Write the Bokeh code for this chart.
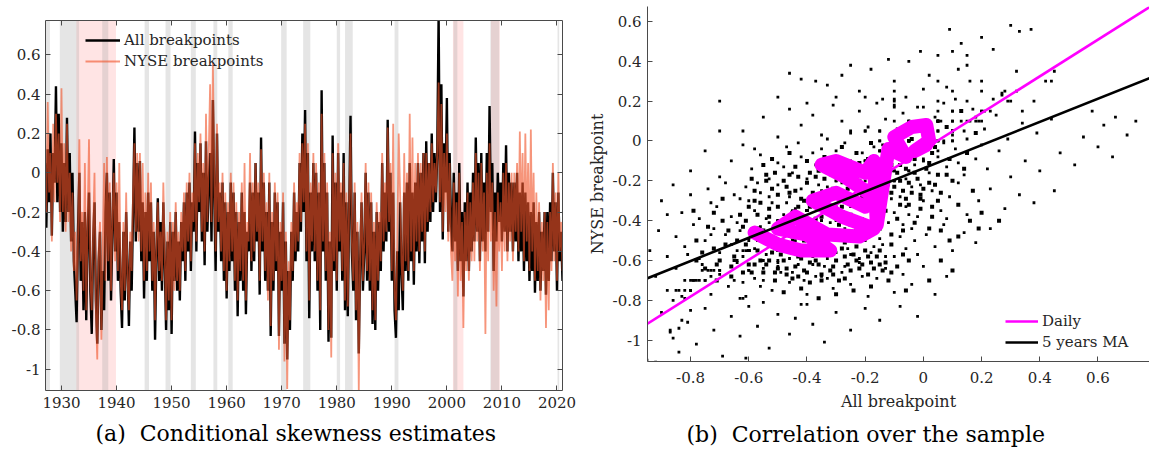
import numpy as np
from bokeh.plotting import figure
from bokeh.models import (BoxAnnotation, LinearAxis, FixedTicker, CustomJSTickFormatter,
                          Legend, LegendItem, Title, Range1d)
from bokeh.layouts import row
from bokeh.embed import file_html
from bokeh.resources import INLINE

FONT = "DejaVu Serif"
AX = "#4a4a4a"
TXT = "#262626"

# ---------------- data: panel (a), quarterly readings 1927.0 ... 2021.0 ----------------
start_year = 1927.0
all_bp = [
    0.05, -0.28, 0.12, -0.15,   0.20, -0.32, 0.10, -0.05,   0.44, -0.15, 0.30, -0.20,
    0.15, -0.30, 0.05, -0.25,   0.28, -0.20, 0.10, -0.35,   0.00, -0.45, -0.60, -0.76,
    -0.30, 0.00, -0.55, -0.25,  -0.70, -0.20, -0.75, -0.30, -0.10, -0.60, -0.82, -0.35,
    -0.15, -0.65, -0.87, -0.45, -0.30, -0.80, -0.50, -0.70, -0.20, 0.00, -0.55, -0.10,
    -0.65, -0.30, 0.07, -0.40,  -0.10, -0.55, -0.25, -0.60, -0.79, -0.30, -0.65, -0.20,
    -0.50, -0.78, -0.35, -0.60, -0.20, 0.23, -0.35, 0.05,   -0.30, 0.06, -0.45, -0.15,
    -0.64, -0.20, -0.55, -0.10, -0.45, -0.15, -0.60, -0.30, -0.85, -0.40, -0.13, -0.55,
    -0.25, -0.60, -0.15, -0.45, -0.80, -0.35, -0.70, -0.25, -0.82, -0.30, -0.55, -0.20,
    -0.60, -0.35, -0.65, -0.25, -0.45, -0.15, -0.55, -0.10, -0.40, -0.05, -0.50, -0.15,
    -0.30, 0.21, -0.40, 0.05,   -0.20, 0.15, -0.35, 0.00,   -0.47, 0.16, -0.30, -0.05,
    0.10, -0.35, 0.37, -0.10,   -0.50, 0.20, -0.30, -0.10,  -0.45, -0.05, -0.55, -0.15,
    -0.64, -0.20, -0.50, -0.05, -0.45, -0.10, -0.60, -0.20, -0.73, -0.25, -0.55, -0.10,
    -0.60, -0.20, -0.72, -0.30, -0.40, -0.05, -0.50, -0.10, -0.45, 0.05, -0.35, -0.10,
    -0.62, 0.18, -0.40, -0.05,  -0.55, -0.20, -0.60, -0.05, -0.83, -0.25, -0.60, -0.10,
    -0.50, -0.15, -0.83, -0.30, -0.60, -0.15, -0.87, -0.35, -0.95, -0.50, -0.80, -0.30,
    -0.55, -0.10, -0.45, -0.20, -0.40, 0.05, -0.30, 0.20,   -0.20, 0.32, -0.45, 0.10,
    -0.74, -0.10, -0.40, 0.05,  -0.45, 0.00, -0.60, -0.10,  -0.80, 0.42, -0.40, 0.05,
    -0.55, -0.10, -0.86, -0.35, -0.84, 0.19, -0.50, -0.05,  -0.60, 0.10, -0.40, -0.10,
    -0.55, 0.10, -0.70, -0.15,  -0.73, -0.20, 0.29, -0.40,  -0.60, -0.10, -0.75, -0.30,
    -0.92, -0.45, -0.15, -0.60, -0.40, 0.00, -0.55, -0.10,  -0.60, -0.15, -0.77, -0.30,
    -0.80, -0.20, -0.60, -0.25, -0.50, 0.05, -0.40, -0.10,  -0.35, 0.27, -0.30, 0.00,
    -0.55, -0.10, -0.70, -0.84, -0.40, -0.70, -0.15, -0.50, -0.70, -0.10, -0.50, -0.05,
    -0.55, 0.05, -0.45, -0.10,  -0.57, -0.05, -0.40, 0.05,  -0.46, 0.00, -0.35, 0.10,
    -0.46, 0.16, -0.30, 0.05,   -0.25, 0.20, -0.20, 0.10,   -0.15, 0.10, 0.80, -0.20,
    0.45, -0.34, 0.15, -0.10,   0.38, -0.30, 0.10, -0.25,   -0.40, 0.00, -0.35, -0.10,
    -0.50, 0.05, -0.45, -0.20,  -0.63, -0.15, -0.45, -0.05, -0.50, -0.10, -0.40, 0.00,
    -0.35, 0.18, -0.30, 0.05,   -0.45, 0.10, -0.35, -0.05,  -0.40, 0.10, -0.30, 0.34,
    -0.20, 0.05, -0.50, -0.10,  -0.35, 0.00, -0.25, -0.05,  -0.35, 0.05, -0.30, 0.14,
    -0.40, 0.00, -0.30, -0.05,  -0.40, -0.05, -0.35, 0.00,  -0.45, -0.10, -0.40, -0.05,
    -0.50, -0.10, -0.45, -0.15, -0.55, -0.20, -0.50, -0.15, -0.61, -0.25, -0.55, -0.20,
    -0.60, -0.30, -0.50, -0.20, -0.62, -0.20, -0.55, -0.15, -0.45, 0.00, -0.40, -0.15,
    -0.60, -0.10, -0.45, -0.30, -0.55,
]
nyse_bp = [
    0.20, -0.20, 0.36, -0.10,   0.10, -0.35, 0.25, -0.15,   0.30, -0.05, 0.20, -0.25,
    0.43, -0.20, 0.15, -0.30,   0.25, -0.25, 0.00, -0.40,   -0.10, -0.50, -0.30, -0.65,
    -0.35, 0.17, -0.45, -0.20,  -0.60, 0.05, -0.70, -0.25,  0.17, -0.55, -0.70, -0.30,
    0.00, -0.70, -0.95, -0.40,  -0.25, -0.85, -0.40, 0.05,  -0.55, 0.08, -0.45, -0.05,
    -0.60, -0.20, 0.00, -0.45,  -0.05, -0.50, 0.05, -0.55,  -0.70, -0.25, -0.60, -0.10,
    -0.55, -0.70, -0.30, -0.50, -0.10, 0.15, -0.30, 0.10,   -0.35, 0.10, -0.40, 0.05,
    -0.55, -0.10, -0.50, 0.00,  -0.40, -0.05, -0.55, -0.25, -0.75, -0.35, -0.15, -0.50,
    -0.30, -0.55, -0.05, -0.40, -0.75, -0.30, -0.65, -0.20, -0.75, -0.25, -0.60, -0.15,
    -0.55, -0.30, -0.60, -0.20, -0.40, -0.10, -0.50, -0.05, -0.35, 0.00, -0.45, -0.10,
    -0.25, 0.15, -0.35, 0.10,   -0.15, 0.20, -0.30, 0.05,   -0.40, 0.30, -0.25, 0.10,
    0.45, -0.25, 0.56, 0.00,    -0.40, 0.25, -0.25, -0.05,  -0.40, 0.00, -0.50, -0.10,
    -0.60, -0.15, -0.45, 0.00,  -0.40, -0.05, -0.55, -0.15, -0.65, -0.20, -0.50, -0.05,
    -0.55, 0.05, -0.65, -0.25,  -0.35, 0.10, -0.45, -0.05,  -0.40, 0.05, -0.30, -0.05,
    -0.55, 0.12, -0.35, 0.00,   -0.50, -0.15, -0.65, 0.00,  -0.78, -0.20, -0.55, -0.05,
    -0.45, -0.10, -0.90, -0.25, -0.55, -0.10, -0.96, -0.30, -1.10, -0.45, -0.75, -0.25,
    -0.50, -0.05, -0.40, -0.15, -0.35, 0.10, -0.25, 0.15,   -0.15, 0.25, -0.40, 0.15,
    -0.65, -0.05, -0.35, 0.10,  -0.40, 0.05, -0.55, -0.05,  -0.70, 0.30, -0.35, 0.10,
    -0.50, -0.05, -0.80, -0.30, -0.94, 0.10, -0.45, 0.00,   -0.55, 0.15, -0.35, -0.05,
    -0.50, 0.05, -0.65, -0.10,  -0.68, -0.15, 0.20, -0.35,  -0.55, -0.05, -0.70, -0.25,
    -1.11, -0.40, -0.10, -0.55, -0.35, 0.05, -0.50, -0.05,  -0.55, -0.10, -0.70, -0.25,
    -0.75, -0.15, -0.55, -0.20, -0.45, 0.10, -0.35, -0.05,  -0.30, 0.23, -0.25, 0.05,
    -0.50, 0.25, -0.60, -0.75,  -0.35, 0.20, -0.10, -0.45,  -0.60, 0.10, -0.45, 0.00,
    -0.50, 0.30, -0.40, 0.18,   -0.50, 0.05, -0.35, 0.10,   -0.40, 0.05, -0.30, 0.10,
    -0.40, 0.10, -0.25, 0.05,   -0.20, 0.15, -0.15, 0.05,   -0.10, 0.10, 0.46, -0.15,
    0.35, -0.30, 0.10, -0.20,   0.20, -0.35, 0.05, -0.40,   -0.55, -0.05, -0.45, -0.15,
    -0.63, 0.00, -0.55, -0.25,  -0.79, -0.20, -0.50, -0.10, -0.55, -0.15, -0.45, -0.05,
    -0.45, 0.10, -0.35, 0.00,   -0.50, 0.05, -0.40, -0.10,  -0.82, 0.00, -0.45, 0.15,
    -0.35, -0.05, -0.60, -0.20, -0.68, -0.10, -0.40, -0.15, -0.50, 0.00, -0.40, 0.05,
    -0.45, -0.05, -0.35, 0.00,  -0.45, 0.00, -0.30, 0.05,   -0.40, 0.21, -0.30, 0.10,
    -0.45, 0.20, -0.35, 0.05,   -0.50, 0.22, -0.40, 0.00,   -0.55, -0.10, -0.50, -0.15,
    -0.65, -0.25, -0.55, -0.20, -0.79, -0.25, -0.70, -0.20, -0.50, 0.05, -0.45, -0.10,
    -0.55, 0.00, -0.40, -0.25, -0.50,
]
recessions = [(1926.8, 1927.9), (1929.7, 1933.2), (1937.4, 1938.5), (1945.1, 1945.9),
              (1948.9, 1949.8), (1953.5, 1954.4), (1957.6, 1958.3), (1960.3, 1961.1),
              (1969.9, 1970.9), (1973.9, 1975.2), (1980.0, 1980.6), (1981.5, 1982.9),
              (1990.5, 1991.2), (2001.2, 2001.9), (2007.9, 2009.5), (2020.1, 2020.4)]
pink_periods = [(1932.7, 1939.9), (2001.1, 2003.0), (2008.0, 2009.6)]
year_ticks = [1930, 1940, 1950, 1960, 1970, 1980, 1990, 2000, 2010, 2020]
skew_ticks = [-1.0, -0.8, -0.6, -0.4, -0.2, 0.0, 0.2, 0.4, 0.6]

# ---------------- data: panel (b) ----------------
scatter_pts = [
    (-0.01, 0.45), (0.13, 0.49), (0.30, 0.58), (0.20, 0.52), (0.05, 0.43), (-0.12, 0.41), (0.24, 0.46),
    (0.33, 0.55), (0.09, 0.56), (-0.05, 0.40),
    (-0.46, 0.34), (-0.42, 0.31), (-0.37, 0.30), (-0.33, 0.28), (-0.28, 0.33), (-0.22, 0.25), (-0.18, 0.36),
    (-0.10, 0.30), (-0.06, 0.22), (0.02, 0.33), (0.08, 0.27), (0.15, 0.38), (0.20, 0.30), (0.27, 0.24),
    (0.32, 0.35), (-0.30, 0.22), (-0.14, 0.21), (0.11, 0.21), (-0.50, 0.22), (0.00, 0.26), (-0.25, 0.38),
    (0.24, 0.21),
    (-0.62, 0.05), (-0.55, 0.12), (-0.50, 0.02), (-0.46, 0.16), (-0.42, 0.08), (-0.38, 0.13), (-0.35, 0.03),
    (-0.31, 0.18), (-0.28, 0.10), (-0.25, 0.04), (-0.22, 0.15), (-0.19, 0.07), (-0.16, 0.19), (-0.13, 0.11),
    (-0.10, 0.02), (-0.07, 0.14), (-0.04, 0.08), (-0.02, 0.17), (0.01, 0.05), (0.04, 0.12), (0.07, 0.19),
    (0.10, 0.03), (0.13, 0.10), (0.17, 0.16), (0.21, 0.06), (0.25, 0.13), (0.29, 0.01), (0.34, 0.09),
    (0.39, 0.04), (0.44, 0.11), (0.58, 0.15), (0.62, 0.08), (0.66, 0.12), (0.70, 0.03), (0.73, 0.10),
    (0.55, 0.02), (-0.33, 0.01), (-0.09, 0.06), (0.15, 0.01), (-0.40, 0.19),
    (-0.80, -0.15), (-0.75, -0.05), (-0.70, -0.18), (-0.66, -0.10), (-0.62, -0.02), (-0.59, -0.14),
    (-0.56, -0.07), (-0.53, -0.19), (-0.50, -0.11), (-0.47, -0.03), (-0.45, -0.16), (-0.42, -0.08),
    (-0.40, -0.19), (-0.37, -0.12), (-0.35, -0.04), (-0.32, -0.17), (-0.29, -0.09), (-0.27, -0.01),
    (-0.24, -0.14), (-0.21, -0.06), (-0.19, -0.18), (-0.16, -0.11), (-0.14, -0.02), (-0.11, -0.15),
    (-0.09, -0.07), (-0.06, -0.19), (-0.03, -0.12), (-0.01, -0.03), (0.02, -0.16), (0.05, -0.08),
    (0.08, -0.13), (0.11, -0.04), (0.14, -0.17), (0.18, -0.09), (0.22, -0.14), (0.26, -0.05),
    (0.30, -0.18), (0.35, -0.10), (0.40, -0.15), (0.47, -0.06), (0.52, -0.12), (0.60, -0.03),
    (0.65, -0.08), (-0.48, -0.13), (-0.38, -0.06), (-0.26, -0.16), (-0.12, -0.09), (0.00, -0.09),
    (0.12, -0.11), (-0.58, -0.04), (-0.43, -0.01), (-0.30, -0.05), (-0.17, -0.03), (-0.05, -0.05),
    (0.07, -0.01), (0.20, -0.02),
    (-0.90, -0.30), (-0.86, -0.22), (-0.83, -0.36), (-0.80, -0.27), (-0.77, -0.39), (-0.74, -0.24),
    (-0.71, -0.33), (-0.68, -0.21), (-0.66, -0.38), (-0.63, -0.29), (-0.61, -0.23), (-0.58, -0.35),
    (-0.56, -0.26), (-0.54, -0.39), (-0.52, -0.31), (-0.50, -0.22), (-0.48, -0.37), (-0.46, -0.28),
    (-0.44, -0.34), (-0.42, -0.24), (-0.40, -0.39), (-0.38, -0.30), (-0.36, -0.22), (-0.34, -0.36),
    (-0.32, -0.27), (-0.30, -0.33), (-0.28, -0.21), (-0.26, -0.38), (-0.24, -0.29), (-0.22, -0.24),
    (-0.20, -0.35), (-0.18, -0.27), (-0.16, -0.39), (-0.14, -0.31), (-0.12, -0.22), (-0.10, -0.36),
    (-0.08, -0.28), (-0.06, -0.33), (-0.04, -0.23), (-0.02, -0.38), (0.00, -0.30), (0.03, -0.25),
    (0.06, -0.35), (0.09, -0.28), (0.12, -0.21), (0.15, -0.37), (0.19, -0.30), (0.23, -0.24),
    (0.28, -0.34), (0.33, -0.27), (0.38, -0.31), (0.45, -0.25), (-0.57, -0.21), (-0.47, -0.31),
    (-0.35, -0.26), (-0.25, -0.33), (-0.15, -0.25), (-0.05, -0.37), (-0.53, -0.28), (-0.43, -0.37),
    (-0.33, -0.23), (-0.21, -0.39), (-0.11, -0.29), (-0.01, -0.22), (0.08, -0.39), (-0.65, -0.27),
    (-0.73, -0.31), (-0.88, -0.37),
    (-0.94, -0.55), (-0.91, -0.45), (-0.88, -0.58), (-0.85, -0.48), (-0.82, -0.53), (-0.79, -0.42),
    (-0.77, -0.59), (-0.75, -0.50), (-0.72, -0.44), (-0.70, -0.56), (-0.68, -0.47), (-0.66, -0.52),
    (-0.64, -0.41), (-0.62, -0.58), (-0.60, -0.49), (-0.58, -0.54), (-0.56, -0.43), (-0.54, -0.57),
    (-0.52, -0.48), (-0.50, -0.53), (-0.48, -0.42), (-0.46, -0.59), (-0.44, -0.50), (-0.42, -0.55),
    (-0.40, -0.44), (-0.38, -0.58), (-0.36, -0.47), (-0.34, -0.53), (-0.32, -0.41), (-0.30, -0.56),
    (-0.28, -0.49), (-0.26, -0.54), (-0.24, -0.43), (-0.22, -0.59), (-0.20, -0.50), (-0.18, -0.56),
    (-0.16, -0.45), (-0.14, -0.52), (-0.12, -0.41), (-0.10, -0.58), (-0.08, -0.48), (-0.06, -0.54),
    (-0.04, -0.44), (-0.02, -0.57), (0.01, -0.47), (0.04, -0.53), (0.07, -0.42), (0.10, -0.55),
    (0.14, -0.46), (0.18, -0.51), (0.23, -0.44), (-0.63, -0.45), (-0.53, -0.41), (-0.43, -0.46),
    (-0.33, -0.59), (-0.23, -0.47), (-0.13, -0.58), (-0.03, -0.50), (-0.57, -0.50), (-0.47, -0.55),
    (-0.37, -0.52), (-0.27, -0.44), (-0.17, -0.53), (-0.07, -0.42), (-0.73, -0.47), (-0.81, -0.57),
    (-0.45, -0.45), (-0.35, -0.43), (-0.25, -0.57), (-0.15, -0.49),
    (-0.92, -0.68), (-0.88, -0.75), (-0.85, -0.64), (-0.82, -0.79), (-0.79, -0.70), (-0.76, -0.62),
    (-0.73, -0.77), (-0.70, -0.67), (-0.67, -0.73), (-0.64, -0.61), (-0.61, -0.78), (-0.58, -0.69),
    (-0.55, -0.64), (-0.52, -0.75), (-0.49, -0.66), (-0.46, -0.71), (-0.43, -0.62), (-0.40, -0.77),
    (-0.37, -0.68), (-0.34, -0.63), (-0.31, -0.74), (-0.28, -0.66), (-0.25, -0.72), (-0.22, -0.61),
    (-0.19, -0.78), (-0.16, -0.69), (-0.13, -0.64), (-0.10, -0.76), (-0.07, -0.67), (-0.04, -0.72),
    (0.00, -0.63), (0.04, -0.77), (0.08, -0.68), (-0.50, -0.61), (-0.45, -0.66), (-0.38, -0.62),
    (-0.33, -0.69), (-0.27, -0.63), (-0.21, -0.68), (-0.62, -0.71), (-0.56, -0.73), (-0.41, -0.70),
    (-0.90, -0.86), (-0.86, -0.99), (-0.84, -1.06), (-0.81, -0.91), (-0.78, -1.02), (-0.75, -0.84),
    (-0.72, -0.95), (-0.69, -1.08), (-0.66, -0.88), (-0.63, -0.98), (-0.60, -0.83), (-0.57, -0.93),
    (-0.53, -1.04), (-0.50, -0.87), (-0.46, -0.97), (-0.42, -0.82), (-0.38, -0.92), (-0.34, -1.01),
    (-0.30, -0.86), (-0.25, -0.95), (-0.20, -0.84), (-0.15, -0.90), (-0.08, -0.83), (-0.02, -0.88),
    (-0.55, -0.81), (-0.44, -0.89), (-0.61, -1.09),
]
scatter_core = [
    (-0.60, -0.62), (-0.57, -0.55), (-0.55, -0.66), (-0.53, -0.60), (-0.51, -0.70), (-0.49, -0.57),
    (-0.47, -0.64), (-0.45, -0.69), (-0.43, -0.58), (-0.41, -0.65), (-0.39, -0.71), (-0.37, -0.60),
    (-0.35, -0.67), (-0.33, -0.55), (-0.31, -0.63), (-0.29, -0.70), (-0.27, -0.58), (-0.25, -0.65),
    (-0.23, -0.53), (-0.21, -0.62), (-0.19, -0.58), (-0.17, -0.64), (-0.15, -0.55), (-0.13, -0.61),
    (-0.11, -0.52), (-0.09, -0.63), (-0.07, -0.57), (-0.05, -0.60),
    (-0.61, -0.40), (-0.59, -0.46), (-0.57, -0.37), (-0.55, -0.45), (-0.53, -0.34), (-0.51, -0.43),
    (-0.49, -0.51), (-0.47, -0.39), (-0.45, -0.48), (-0.43, -0.33), (-0.41, -0.50), (-0.39, -0.41),
    (-0.37, -0.47), (-0.35, -0.38), (-0.33, -0.49), (-0.31, -0.35), (-0.29, -0.42), (-0.27, -0.51),
    (-0.25, -0.37), (-0.23, -0.45), (-0.21, -0.34), (-0.19, -0.48), (-0.17, -0.38), (-0.15, -0.44),
    (-0.13, -0.35), (-0.11, -0.47), (-0.09, -0.39), (-0.07, -0.45), (-0.05, -0.32), (-0.03, -0.41),
    (-0.01, -0.34), (0.02, -0.44),
    (-0.58, -0.30), (-0.54, -0.20), (-0.50, -0.27), (-0.46, -0.17), (-0.44, -0.25), (-0.41, -0.30),
    (-0.39, -0.16), (-0.36, -0.31), (-0.34, -0.19), (-0.31, -0.24), (-0.29, -0.14), (-0.26, -0.27),
    (-0.23, -0.18), (-0.21, -0.28), (-0.18, -0.21), (-0.16, -0.32), (-0.13, -0.18), (-0.11, -0.26),
    (-0.08, -0.20), (-0.06, -0.29), (-0.03, -0.16), (-0.01, -0.27), (0.02, -0.21), (0.05, -0.30),
    (0.08, -0.17),
    (-0.52, -0.09), (-0.46, -0.06), (-0.40, -0.10), (-0.34, -0.08), (-0.28, -0.03), (-0.22, -0.11),
    (-0.18, -0.01), (-0.13, -0.06), (-0.08, -0.12), (-0.04, 0.01), (0.03, -0.06), (0.09, -0.09),
    (-0.70, -0.60), (-0.68, -0.52), (-0.66, -0.63), (-0.64, -0.50), (-0.62, -0.66), (-0.72, -0.54),
    (-0.75, -0.64), (-0.78, -0.50), (-0.69, -0.40), (-0.71, -0.70),
    (-0.48, -0.76), (-0.42, -0.74), (-0.36, -0.79), (-0.30, -0.77), (-0.24, -0.75), (-0.18, -0.73),
    (-0.12, -0.70), (-0.06, -0.75), (0.02, -0.70), (0.06, -0.60), (0.10, -0.65), (0.12, -0.48),
    (0.16, -0.40), (0.20, -0.36), (0.26, -0.40),
    (-0.54, -0.62), (-0.52, -0.56), (-0.50, -0.64), (-0.48, -0.60), (-0.46, -0.52), (-0.44, -0.63),
    (-0.42, -0.59), (-0.40, -0.66), (-0.38, -0.55), (-0.36, -0.62), (-0.34, -0.57), (-0.32, -0.65),
    (-0.30, -0.60), (-0.28, -0.54), (-0.26, -0.62), (-0.24, -0.57), (-0.22, -0.64), (-0.20, -0.55),
    (-0.18, -0.61), (-0.16, -0.58), (-0.14, -0.65), (-0.53, -0.38), (-0.49, -0.46), (-0.45, -0.36),
    (-0.41, -0.42), (-0.37, -0.39), (-0.29, -0.38), (-0.25, -0.42), (-0.21, -0.40), (-0.17, -0.36),
    (-0.51, -0.66), (-0.43, -0.68), (-0.35, -0.70), (-0.27, -0.69), (-0.19, -0.67), (-0.11, -0.66),
    (-0.56, -0.60), (-0.47, -0.67), (-0.39, -0.61), (-0.31, -0.67), (-0.23, -0.60), (-0.15, -0.62),
    (-0.28, -0.33), (-0.26, -0.24), (-0.24, -0.31), (-0.22, -0.20), (-0.20, -0.27), (-0.18, -0.14),
    (-0.16, -0.24), (-0.14, -0.29), (-0.12, -0.17), (-0.10, -0.23), (-0.08, -0.32), (-0.06, -0.14),
    (-0.04, -0.26), (-0.02, -0.19), (0.00, -0.24), (0.02, -0.11), (0.04, -0.22), (-0.27, -0.10),
    (-0.23, -0.06), (-0.19, -0.09), (-0.15, -0.16), (-0.11, -0.12), (-0.07, -0.03), (-0.03, -0.09),
    (0.01, -0.14), (0.05, -0.17), (-0.21, -0.22), (-0.13, -0.27), (-0.09, -0.16), (-0.05, -0.21),
    (-0.01, -0.29), (0.03, -0.33), (-0.25, -0.14), (-0.17, -0.30), (-0.07, -0.25), (0.06, -0.26),
    (-0.60, -0.33), (-0.58, -0.25), (-0.56, -0.31), (-0.54, -0.17), (-0.52, -0.24), (-0.50, -0.33),
    (-0.48, -0.20), (-0.46, -0.26), (-0.44, -0.13), (-0.42, -0.29), (-0.40, -0.21), (-0.38, -0.26),
    (-0.36, -0.15), (-0.59, -0.19), (-0.55, -0.12), (-0.51, -0.16), (-0.47, -0.23), (-0.43, -0.18),
    (-0.39, -0.33), (-0.37, -0.18),
    (-0.79, -0.35), (-0.76, -0.56), (-0.74, -0.43), (-0.71, -0.62), (-0.69, -0.29), (-0.67, -0.45),
    (-0.65, -0.58), (-0.63, -0.37), (-0.61, -0.52), (-0.59, -0.66), (-0.57, -0.44), (-0.78, -0.60),
    (-0.72, -0.36), (-0.66, -0.68), (-0.62, -0.43), (-0.58, -0.62),
    (0.01, 0.10), (0.04, -0.03), (0.06, -0.45), (0.08, 0.07), (0.10, -0.20), (0.12, -0.32),
    (0.13, 0.15), (0.15, -0.06), (0.17, -0.25), (0.18, 0.04), (0.03, -0.38), (0.09, -0.50),
    (0.14, -0.14), (0.19, -0.44),
]
ma_all = [-0.58, -0.50, -0.42, -0.32, -0.40, -0.50, -0.44, -0.33, -0.22, -0.17, -0.28, -0.38, -0.30,
          -0.20, -0.17, -0.27, -0.35, -0.30, -0.20, -0.17, -0.16, -0.12, -0.06, -0.10, -0.04, 0.01,
          0.02, -0.03, 0.01]
ma_nyse = [-0.46, -0.52, -0.55, -0.55, -0.47, -0.44, -0.38, -0.47, -0.48, -0.44, -0.38, -0.30, -0.26,
           -0.33, -0.28, -0.18, -0.12, -0.10, -0.16, -0.10, -0.42, -0.04, -0.08, 0.02, 0.07, 0.08,
           0.00, -0.05, -0.02]
fit_daily = (0.921, -0.044)   # slope, intercept
fit_ma = (0.582, -0.137)
corr_x_ticks = [-0.8, -0.6, -0.4, -0.2, 0.0, 0.2, 0.4, 0.6]
corr_y_ticks = [-1.0, -0.8, -0.6, -0.4, -0.2, 0.0, 0.2, 0.4, 0.6]

# ---------------- helpers ----------------
num_fmt = CustomJSTickFormatter(code="""
if (Math.abs(tick) < 1e-9) return '0';
let s = tick.toFixed(1);
if (s.endsWith('.0')) s = s.slice(0, -2);
return s;
""")
empty_fmt = CustomJSTickFormatter(code="return '';")


def style_axis(ax, ticks, fmt=None, standoff=5):
    ax.ticker = FixedTicker(ticks=ticks)
    if fmt is not None:
        ax.formatter = fmt
    ax.major_tick_in = 5
    ax.major_tick_out = 0
    ax.minor_tick_line_color = None
    ax.axis_line_color = AX
    ax.major_tick_line_color = AX
    ax.axis_line_width = 1
    ax.major_label_text_font = FONT
    ax.major_label_text_font_size = "15px"
    ax.major_label_text_color = TXT
    ax.major_label_standoff = standoff
    ax.axis_label_text_font = FONT
    ax.axis_label_text_font_size = "16px"
    ax.axis_label_text_font_style = "normal"
    ax.axis_label_text_color = TXT


H = 458

# ---------------- panel (a) ----------------
years = start_year + np.arange(len(all_bp)) / 4.0

p1 = figure(width=580, height=H, x_range=Range1d(1927.1, 2021.0), y_range=Range1d(-1.108, 0.775),
            output_backend="svg", toolbar_location=None, frame_align=False,
            min_border_left=45, min_border_right=18, min_border_top=20, min_border_bottom=H - 390)
p1.xgrid.visible = False
p1.ygrid.visible = False
p1.outline_line_color = None

for (a, b) in pink_periods:
    p1.add_layout(BoxAnnotation(left=a, right=b, fill_color="#ffb3b3", fill_alpha=0.35,
                                line_color=None, level="underlay"))
for (a, b) in recessions:
    p1.add_layout(BoxAnnotation(left=a, right=b, fill_color="#a0a0a0", fill_alpha=0.27,
                                line_color=None, level="underlay"))

r_all = p1.line(years, all_bp, line_color="black", line_width=2.4)
r_nyse = p1.line(years, nyse_bp, line_color="#f0542a", line_alpha=0.62, line_width=1.8)

style_axis(p1.xaxis[0], year_ticks, standoff=6)
style_axis(p1.yaxis[0], skew_ticks, num_fmt, standoff=5)
ax_top = LinearAxis()
style_axis(ax_top, year_ticks, empty_fmt, standoff=0)
p1.add_layout(ax_top, "above")
ax_right = LinearAxis()
style_axis(ax_right, skew_ticks, empty_fmt, standoff=0)
p1.add_layout(ax_right, "right")

leg1 = Legend(items=[LegendItem(label="All breakpoints", renderers=[r_all]),
                     LegendItem(label="NYSE breakpoints", renderers=[r_nyse])],
              location=(40, 319), padding=0, margin=0, spacing=1, glyph_width=35, glyph_height=20,
              label_height=20, label_standoff=4, label_text_font=FONT, label_text_font_size="15px",
              label_text_color=TXT, background_fill_alpha=0, border_line_alpha=0)
p1.add_layout(leg1)

t1 = Title(text="(a)\u00a0 Conditional skewness estimates", align="left", offset=50,
           text_font=FONT, text_font_size="22px", text_font_style="normal", text_color="black",
           standoff=16)
p1.add_layout(t1, "below")

# ---------------- panel (b) ----------------
x_lo, x_hi = -0.948, 0.777
sc_x = [pt[0] for pt in scatter_pts] + list(all_bp)
sc_y = [pt[1] for pt in scatter_pts] + list(nyse_bp)
core_x = [pt[0] for pt in scatter_core]
core_y = [pt[1] for pt in scatter_core]

p2 = figure(width=569, height=H, x_range=Range1d(x_lo, x_hi), y_range=Range1d(-1.107, 0.675),
            output_backend="svg", toolbar_location=None, frame_align=False,
            min_border_left=67, min_border_right=0, min_border_top=6, min_border_bottom=H - 361)
p2.xgrid.visible = False
p2.ygrid.visible = False
p2.outline_line_color = None

p2.scatter(sc_x, sc_y, marker="square", size=2.8, fill_color="black", line_color=None)
p2.scatter(core_x, core_y, marker="square", size=4.0, fill_color="black", line_color=None)
p2.line(ma_all, ma_nyse, line_color="#ff00ff", line_width=14, line_join="round", line_cap="round")
fx = np.array([x_lo, x_hi])
r_d = p2.line(fx, fit_daily[1] + fit_daily[0] * fx, line_color="#ff00ff", line_width=2.6)
r_m = p2.line(fx, fit_ma[1] + fit_ma[0] * fx, line_color="black", line_width=2.6)

style_axis(p2.xaxis[0], corr_x_ticks, num_fmt, standoff=10)
style_axis(p2.yaxis[0], corr_y_ticks, num_fmt, standoff=6)
p2.xaxis[0].axis_label = "All breakpoint"
p2.xaxis[0].axis_label_standoff = 6
p2.yaxis[0].axis_label = "NYSE breakpoint"
p2.yaxis[0].axis_label_standoff = 3

leg2 = Legend(items=[LegendItem(label="Daily", renderers=[r_d]),
                     LegendItem(label="5 years MA", renderers=[r_m])],
              location=(358, 9), padding=0, margin=0, spacing=1, glyph_width=33, glyph_height=20,
              label_height=20, label_standoff=4, label_text_font=FONT, label_text_font_size="15px",
              label_text_color=TXT, background_fill_alpha=0, border_line_alpha=0)
p2.add_layout(leg2)

t2 = Title(text="(b)\u00a0 Correlation over the sample", align="left", offset=39,
           text_font=FONT, text_font_size="22px", text_font_style="normal", text_color="black",
           standoff=12)
p2.add_layout(t2, "below")

layout = row(p1, p2)
open("out.html", "w").write(file_html(layout, INLINE))
